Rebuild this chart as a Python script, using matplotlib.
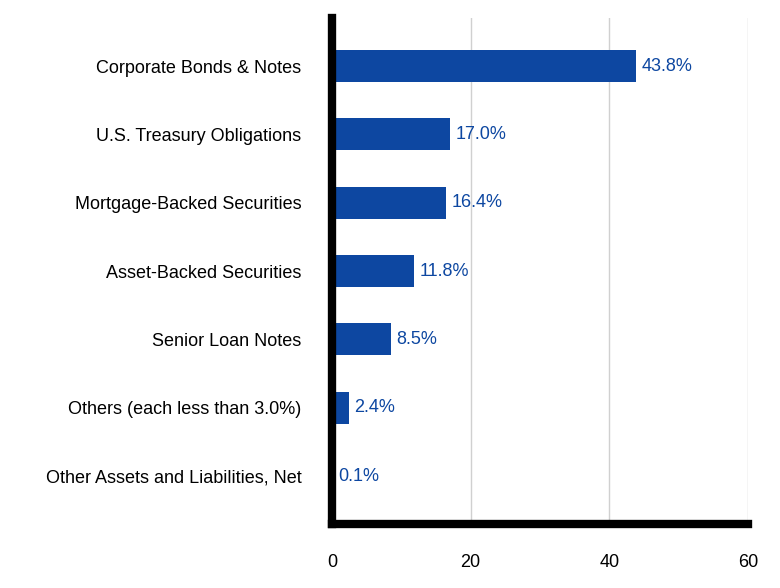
import matplotlib.pyplot as plt

plt.rcParams['font.family'] = 'Liberation Sans'

categories = ['Corporate Bonds & Notes', 'U.S. Treasury Obligations', 'Mortgage-Backed Securities',
              'Asset-Backed Securities', 'Senior Loan Notes', 'Others (each less than 3.0%)',
              'Other Assets and Liabilities, Net']
values = [43.8, 17.0, 16.4, 11.8, 8.5, 2.4, 0.1]
xticks = [0, 20, 40, 60]

color = '#0d47a1'
fig = plt.figure(figsize=(7.8, 5.88), dpi=100)
ax = fig.add_axes([0.4256, 0.109, 0.959 - 0.4256, 0.969 - 0.109])

y = range(len(categories))
ax.barh(y, values, height=0.47, color=color, zorder=2)
for i, v in enumerate(values):
    ax.text(v + 0.8, i, f'{v:.1f}%', va='center', ha='left', color=color, fontsize=13)

ax.set_ylim(len(categories) - 0.3, -0.7)
ax.set_xlim(0, 60)
ax.set_yticks(list(y))
ax.set_yticklabels(categories, fontsize=13)
ax.set_xticks(xticks)
ax.set_xticklabels([str(t) for t in xticks], fontsize=13)
ax.tick_params(length=0)
ax.tick_params(axis='x', pad=22)
ax.tick_params(axis='y', pad=22)
ax.grid(axis='x', color='#d0d0d0', linewidth=1, zorder=0)
ax.spines['top'].set_visible(False)
ax.spines['right'].set_visible(False)
ax.spines['left'].set_linewidth(6)
ax.spines['bottom'].set_linewidth(6)
ax.spines['left'].set_zorder(3)

fig.savefig('out.png', dpi=100)
